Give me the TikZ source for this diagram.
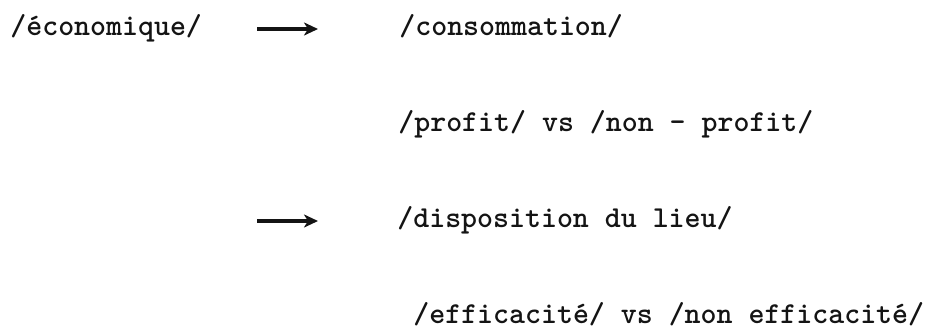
\documentclass[tikz,border=0pt]{standalone}
\usepackage{tikz}
\usetikzlibrary{arrows.meta,positioning,calc}
\usepackage{xcolor}
\definecolor{ink}{RGB}{20,20,20}
\tikzset{
  word/.style={inner sep=0pt,anchor=base west,text=ink,
    font=\fontsize{15.2}{18}\selectfont\ttfamily\bfseries,
    text height=9pt,text depth=3pt},
  arr/.style={-{Stealth[length=7pt,width=6.5pt,inset=2pt]},
    line width=1.6pt,draw=ink},
}
\begin{document}
\begin{tikzpicture}[x=0.5pt,y=-0.5pt]
  \useasboundingbox (0,0) rectangle (941,333);
  % left term
  \node[word] (econ) at (10,35) {/économique/};
  % first arrow
  \node[word] (cons) at (399,35) {/consommation/};
  \draw[arr,shorten <=27.5pt,shorten >=40.5pt] (econ.east) -- (cons.west);
  \node[word] (prof) at (398,131) {/profit/ vs /non - profit/};
  % second arrow
  \coordinate (a2) at (257,221);
  \node[word] (disp) at (397,227) {/disposition du lieu/};
  \draw[arr,shorten >=39.5pt] (a2) -- (disp.west);
  \node[word] (effi) at (413,323) {/efficacité/ vs /non efficacité/};
\end{tikzpicture}
\end{document}
